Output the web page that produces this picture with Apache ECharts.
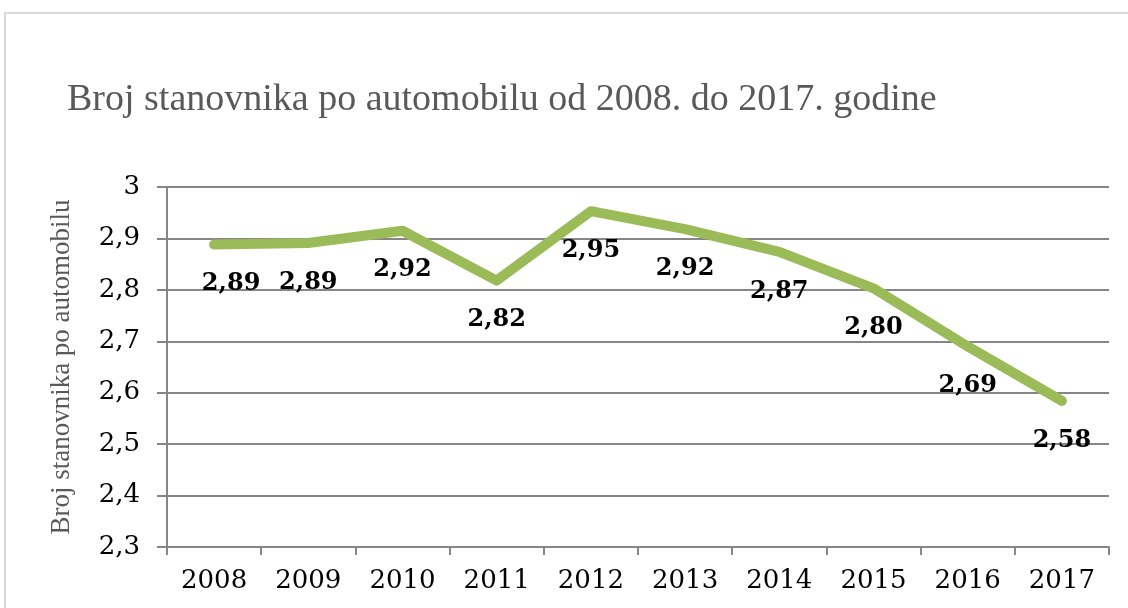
<!DOCTYPE html>
<html>
<head>
<meta charset="utf-8">
<script src="https://cdn.jsdelivr.net/npm/echarts@6/dist/echarts.min.js"></script>
<style>
  html, body { margin: 0; padding: 0; background: #fff; }
  .frame {
    position: absolute; left: 4px; top: 12px; width: 1124px; height: 596px;
    border-top: 2px solid #d9d9d9; border-left: 2px solid #d9d9d9;
  }
  #chart { position: absolute; left: 0; top: 0; width: 1128px; height: 608px; }
</style>
</head>
<body>
<div class="frame"></div>
<div id="chart"></div>
<script>
// podaci očitani s grafikona
const years = ["2008", "2009", "2010", "2011", "2012", "2013", "2014", "2015", "2016", "2017"];
const perCar = [2.888, 2.891, 2.915, 2.818, 2.953, 2.918, 2.874, 2.803, 2.690, 2.584];

const title = "Broj stanovnika po automobilu od 2008. do 2017. godine";
const yName = "Broj stanovnika po automobilu";

const gray = "#868686";
const green = "#9bbb59";

const chart = echarts.init(document.getElementById("chart"));

const option = {
  animation: false,
  title: {
    text: title,
    left: 62,
    top: 76,
    textStyle: {
      fontFamily: "Liberation Serif",
      fontWeight: "normal",
      fontSize: 38,
      color: "#595959"
    }
  },
  grid: { left: 167, right: 19, top: 187, bottom: 61 },
  xAxis: {
    type: "category",
    data: years,
    boundaryGap: true,
    axisLine: { lineStyle: { color: gray, width: 2 } },
    axisTick: { show: true, interval: 0, length: 8, lineStyle: { color: gray, width: 2 } },
    axisLabel: {
      margin: 21,
      color: "#000",
      fontFamily: "DejaVu Serif",
      fontSize: 26
    }
  },
  yAxis: {
    type: "value",
    min: 2.3,
    max: 3,
    interval: 0.1,
    name: yName,
    nameLocation: "middle",
    nameGap: 92,
    nameTextStyle: {
      fontFamily: "Liberation Serif",
      fontSize: 27,
      color: "#595959"
    },
    axisLine: { show: true, lineStyle: { color: gray, width: 2 } },
    axisTick: { show: true, length: 10, lineStyle: { color: gray, width: 2 } },
    splitLine: { lineStyle: { color: gray, width: 2 } },
    axisLabel: {
      margin: 27,
      color: "#000",
      fontFamily: "DejaVu Serif",
      fontSize: 26,
      formatter: v => String(+v.toFixed(1)).replace(".", ",")
    }
  },
  series: [
    {
      type: "line",
      // prva oznaka je u originalu malo pomaknuta udesno
      data: perCar.map((v, i) => (i === 0 ? { value: v, label: { offset: [17, 0] } } : v)),
      symbol: "circle",
      symbolSize: 1,
      itemStyle: { color: green },
      lineStyle: { color: green, width: 10, cap: "round", join: "round" },
      label: {
        show: true,
        position: "bottom",
        distance: 27,
        color: "#000",
        fontFamily: "DejaVu Serif",
        fontWeight: "bold",
        fontSize: 24,
        formatter: p => p.value.toFixed(2).replace(".", ",")
      }
    }
  ]
};

chart.setOption(option);
window.addEventListener("resize", () => {
  chart.resize();
});
</script>
</body>
</html>
